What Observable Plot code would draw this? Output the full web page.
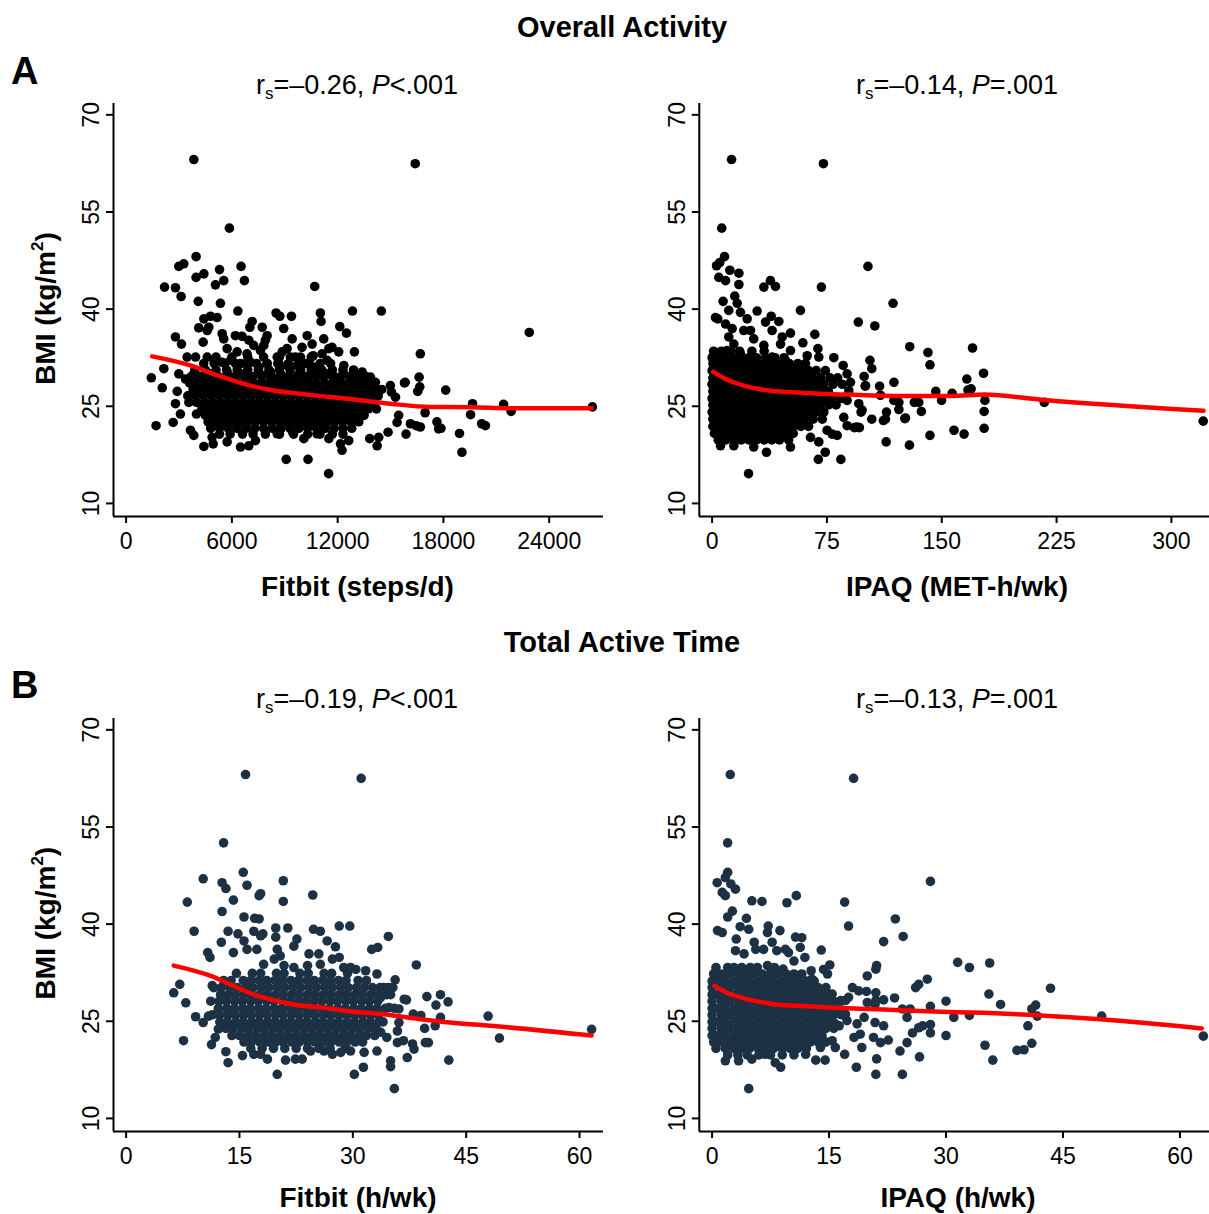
<!DOCTYPE html>
<html><head><meta charset="utf-8">
<script src="https://cdn.jsdelivr.net/npm/d3@7"></script>
<script src="https://cdn.jsdelivr.net/npm/@observablehq/plot@0.6"></script>
<style>
html,body{margin:0;padding:0;background:#fff;}
#root{position:relative;width:1209px;height:1214px;overflow:hidden;font-family:"Liberation Sans",Arial,Helvetica,sans-serif;}
#overlay{position:absolute;left:0;top:0;}
</style></head><body><div id="root"></div>
<script>
// ---------- tick values ----------
const yTicks = [10, 25, 40, 55, 70];
const xTicksSteps = [0, 6000, 12000, 18000, 24000];
const xTicksMet = [0, 75, 150, 225, 300];
const xTicksHours = [0, 15, 30, 45, 60];

// ---------- Panel A left: Fitbit steps/d vs BMI ----------
const tlPoints = [
[3840,63.1],[16400,62.45],[5860,52.5],[22870,36.4],[1430,29.4],[1700,22.0],[26450,24.9],[21410,25.3],[21840,24.2],[19650,25.4],[19540,23.7],[20170,22.3],[20380,22.0],[18910,20.8],[19050,17.9],[18130,27.5],[17630,22.6],[17860,21.6],[16960,24.0],[16690,33.1],[16620,29.5],[16660,28.0],[15830,28.7],[14480,39.7],[11490,14.6],[10320,16.8],[9080,16.8],[10700,43.5],[12840,39.7],
[3970,48.1],[3270,47.0],[2990,46.6],[4410,45.45],[3970,44.9],[5300,46.1],[6520,46.6],[5540,44.4],[6710,44.4],[5070,43.75],[2180,43.4],[2800,43.3],[3120,41.95],[4090,41.2],[5350,40.9],[6340,39.7],[8510,39.4],[8720,38.9],[9380,38.9],[11020,39.4],[11060,38.1],[4410,38.5],[4790,38.9],[5160,38.7],[4120,37.1],[4690,37.2],[4600,36.7],[7150,38.1],[7020,37.2],[7720,37.2],[8940,37.0],[12120,37.3],[12500,36.3],
[2800,35.7],[3140,34.6],[4370,34.9],[5450,36.2],[5540,35.4],[6200,35.9],[6580,35.8],[6960,35.2],[7240,34.4],[7900,35.2],[8000,35.9],[7810,34.4],[7620,33.6],[9420,35.4],[10270,35.9],[10550,34.6],[9980,34.1],[11210,35.4],[11500,33.9],[11680,34.1],[12060,33.4],[12950,33.4],[5730,33.9],[6300,33.4],[6860,33.1],[9130,33.9],[8850,33.4],[8570,32.6],[9320,32.6],[9890,32.6],[10610,32.8],[11120,33.1],[3460,32.6],[3940,32.6],[4600,32.6],[4980,32.1],[5450,31.8],[5920,32.1],[6490,31.6],[7050,31.8],[7530,31.0],[8000,31.6],[8660,31.6],[9130,31.3],[9700,31.3],[10170,31.6],[10650,31.0],[11400,32.1],[12350,31.3],[2990,30.0],[2140,30.8],[3370,29.2],[3840,30.0],[4310,29.5],[4790,30.0],[5260,29.5],[5730,30.3],[6110,29.5],[6680,30.0],[7150,29.5],[7720,29.8],[8190,30.3],[8760,30.0],[9320,29.5],[9800,30.0],[10270,29.2],[10830,29.8],[11400,30.0],[11870,29.5],[12350,30.0],[12910,30.0],[13390,30.3],[13860,29.5],[14140,28.7],[14990,28.2],[15050,27.2],[15790,28.6],[16540,27.3],[2050,27.85],[2900,27.3],[2800,25.4],[3080,23.8],[2670,22.5],[3560,25.6],[3650,21.3],[3840,20.5],[3990,23.8],
[17730,21.5],[16450,22.0],[15880,20.7],[15370,22.5],[14860,21.0],[15460,23.6],[15280,26.4],[16130,22.3],[16690,21.8],[14330,20.2],[14240,18.9],[13820,20.0],[12630,19.7],[12250,18.2],[12160,19.2],[11500,20.0],[10830,20.75],[10080,20.0],[9450,21.0],[8570,20.75],[7340,19.7],[6960,18.9],[6490,18.7],[5730,19.5],[4940,19.2],[4410,18.8],[4880,20.2]
];
const tlCoreRows = [
[32.6,[5100,6000,6900,7800,8700,9600,10500]],
[31.6,[4400,5000,5600,6200,6800,7400,8000,8600,9200,9800,10400,11000,11600]],
[30.6,[3900,4500,5100,5700,6300,6900,7500,8100,8700,9300,9900,10500,11100,11700,12300,12900]],
[29.6,[3700,4200,4700,5200,5700,6200,6700,7200,7700,8200,8700,9200,9700,10200,10700,11200,11700,12200,12700,13200,13600]],
[28.6,[3600,4050,4500,4950,5400,5850,6300,6750,7200,7650,8100,8550,9000,9450,9900,10350,10800,11250,11700,12150,12600,13050,13500,13950]],
[27.6,[3800,4250,4700,5150,5600,6050,6500,6950,7400,7850,8300,8750,9200,9650,10100,10550,11000,11450,11900,12350,12800,13250,13700,14150,14500]],
[26.6,[3500,3950,4400,4850,5300,5750,6200,6650,7100,7550,8000,8450,8900,9350,9800,10250,10700,11150,11600,12050,12500,12950,13400,13850,14300]],
[25.6,[4000,4450,4900,5350,5800,6250,6700,7150,7600,8050,8500,8950,9400,9850,10300,10750,11200,11650,12100,12550,13000,13450,13900]],
[24.6,[4300,4750,5200,5650,6100,6550,7000,7450,7900,8350,8800,9250,9700,10150,10600,11050,11500,11950,12400,12850,13300,13750,14200]],
[23.6,[4500,4950,5400,5850,6300,6750,7200,7650,8100,8550,9000,9450,9900,10350,10800,11250,11700,12150,12600,13050,13500]],
[22.6,[4650,5100,5550,6000,6450,6900,7350,7800,8250,8700,9150,9600,10050,10500,10950,11400,11850,12300,12750,13200]],
[21.6,[4800,5300,5800,6300,6800,7300,7800,8300,8800,9300,9800,10300,10800,11300,11800,12300,12800]],
[20.7,[5300,5900,6600,7200,7900,8700,9500,10300,11000,11700,12300]]
];
const tlLoess = [[1480,32.7],[3650,31.3],[5160,29.8],[6490,28.6],[8190,27.5],[10270,26.8],[12540,26.15],[14990,25.4],[17260,24.9],[19530,24.85],[22130,24.7],[26410,24.7]];

// ---------- Panel A right: IPAQ MET-h/wk vs BMI ----------
const trPoints = [
[12.7,63.1],[72.7,62.45],[6.3,52.5],[101.8,46.6],[320.8,22.7],[217,25.6],[177.3,30.1],[170.1,34.0],[177.7,21.6],[177.7,24.2],[178.2,25.9],[164.6,20.7],[158,21.3],[142.3,20.5],[128.9,19.0],[113.7,19.5],[84.1,16.8],[69.4,16.8],[73.9,17.9],[23.8,14.6],[35.5,17.9],[118.2,40.9],[106.3,37.4],[95.5,38.0],[71.4,43.4],[141,33.3],[142.3,31.4],[129.1,34.2],[166.4,29.2],[167.1,27.5],[156.8,27.0],[146.1,27.3],[149.9,25.9],[136.7,24.2],[132.1,25.6],[125.9,23.1],[118.8,28.7],[109.4,28.1],[104.3,30.8],[103.1,32.1],[99.3,29.6],[100,28.1],[97.3,24.1],[104.3,23.0],[111.9,22.8],[113.9,24.1],[122,24.5],[122,25.6],[96.2,21.7],[92.9,21.7],
[8.1,48.1],[2.9,46.7],[5.0,47.2],[11.6,46.0],[17.5,45.55],[4.4,44.9],[8.8,44.4],[17.5,43.8],[33.8,43.4],[38.1,44.4],[41.4,43.5],[7.2,41.2],[14.8,42.0],[16.4,40.9],[10.9,39.8],[2.2,38.7],[3.7,38.5],[18.5,39.5],[29.4,39.7],[57.7,39.8],[38.6,38.9],[43.6,38.1],[34.9,38.0],[22.9,38.5],[8.8,37.7],[13.1,37.0],[25.1,36.7],[20.7,36.7],[39.2,36.7],[51.2,36.3],[45.8,35.7],[67.1,36.1],[59.3,34.8],[10.9,35.7],[14.2,34.6],[27.2,35.4],[33.8,34.4],[44.7,34.6],[51.2,33.6],[69.1,33.9],[69.7,32.6],[62.1,32.8],[79.5,32.5],[2.2,32.6],[9.8,33.6],[18.5,33.1],[27.2,32.6],[39.2,32.6],[47.9,32.1],[54.5,31.3],[85.6,31.3],
[88.2,30.0],[90.4,28.7],[100.2,28.2],[95.8,25.4],[98.0,24.4],[113.2,23.0],[126.3,23.2],[135,25.6],[169.2,27.7],[69.7,19.5],[78.4,20.7],[81.7,20.5],[88.2,22.0],[94.7,21.8],[86.0,23.3],[88.2,25.9],[89.3,27.4],[75.1,21.3],[64.3,20.2],[51.2,18.7],[51.2,20.9],[27.2,18.7],[14.2,18.9],[5.5,18.9],[110,26.7],[118.7,25.9]
];
const trCoreRows = [
[33.5,[1,6,12,18,26,34]],
[32.5,[0,4,9,14,19,24,29,35,41,47]],
[31.6,[0.5,5.5,10.5,15.5,20.5,25.5,30.5,35.5,40.5,45.5,50.5,56,61]],
[30.5,[0,3,8,13,18,23,28,33,38,43,48,53,58,63,68,74]],
[29.4,[0.5,5.5,10.5,15.5,20.5,25.5,30.5,35.5,40.5,45.5,50.5,55.5,60.5,65.5,71,77,82]],
[28.4,[0,3,8,13,18,23,28,33,38,43,48,53,58,63,68,73,79,85]],
[27.3,[0.5,5.5,10.5,15.5,20.5,25.5,30.5,35.5,40.5,45.5,50.5,55.5,60.5,65.5,70.5,76]],
[26.2,[0,3,8,13,18,23,28,33,38,43,48,53,58,63,68,73,78,84]],
[25.2,[0.5,5.5,10.5,15.5,20.5,25.5,30.5,35.5,40.5,45.5,50.5,55.5,60.5,65.5,70.5,76,81]],
[24.1,[0,3,8,13,18,23,28,33,38,43,48,53,58,63,68,73]],
[23.0,[0.5,5.5,10.5,15.5,20.5,25.5,30.5,35.5,40.5,45.5,50.5,55.5,60.5,66,72]],
[21.9,[0.5,3,8,13,18,23,28,33,38,43,48,53,58,63]],
[20.8,[1.5,6.5,11.5,16.5,21.5,26.5,31.5,36.5,41.5,46.5,53]],
[19.8,[4,9,14,19,24,29,34,39,44,50]]
];
const trLoess = [[0.7,30.3],[9.8,29.1],[20.7,28.2],[38,27.4],[58,27.1],[90,26.8],[123,26.6],[156,26.6],[178,26.8],[215,26.0],[321,24.3]];

// ---------- Panel B left: Fitbit h/wk vs BMI ----------
const blPoints = [
[15.8,63.1],[31.1,62.5],[12.9,52.55],[61.6,23.75],[49.4,22.4],[47.9,25.8],[42.7,19.0],[35.5,14.6],[30.2,16.8],[20.0,16.8],[31.4,17.9],[34.7,38.1],[29.6,39.7],[28.2,39.7],[24.7,44.5],[20.8,46.7],[20.8,43.5],[10.2,47.0],[8.1,43.4],[9.0,38.9],[6.3,29.4],[7.6,22.0],[7.1,30.7],[7.9,27.85],[38.4,33.7],[32.5,36.1],[33.3,36.4],[39.8,28.8],[41.6,29.1],[42.6,28.0],[41.0,27.5],[39.5,23.9],[40.0,21.7],[37.1,28.3],[38.0,26.1],[39.0,25.9],
[12.7,46.4],[13.2,45.5],[15.5,48.0],[16.0,46.0],[17.8,44.7],[17.6,44.4],[14.2,43.7],[12.7,41.95],[15.6,41.1],[17.0,40.9],[17.6,40.8],[13.5,38.9],[14.8,38.5],[16.9,38.9],[18.1,38.5],[19.8,39.4],[21.4,39.4],[24.8,39.2],[25.7,38.9],[12.6,37.2],[15.6,37.4],[16.0,36.1],[17.3,36.1],[19.8,38.0],[17.8,38.2],[22.6,37.7],[22.2,36.6],[26.6,37.4],[27.7,36.5],[10.8,35.6],[11.1,34.85],[14.2,35.6],[20.0,36.1],[20.4,35.1],[24.2,35.4],[25.5,35.4],[27.3,34.6],[28.2,34.85],[18.2,33.8],[19.6,34.6],[20.9,33.6],[22.2,33.3],[24.0,33.6],[25.7,33.8],[28.8,33.3],[29.7,33.3],[30.4,33.0],[11.4,30.5],[9.2,25.7],[10.2,24.8],[11.3,21.4],[11.8,22.5],[12.2,23.8],[13.2,20.3],[13.5,18.6],[15.4,19.7],[35.0,18.9],[35.0,18.0],[33.2,32.3],[31.7,32.8],[35.6,31.4],[35.3,30.2],[34.1,30.2],[33.7,28.7],[36.8,28.4],[36.1,26.9],[34.8,27.1],[41.6,25.6],[40.9,24.3],[39.6,21.7],[37.9,21.5],[37.2,19.4],[38.1,20.7],[35.9,21.7],[36.7,22.0],[35.9,23.5],[36.1,24.8],[33.7,23.3],[34.5,22.5],[33.2,20.4],[31.5,20.2],[29.7,20.4],[28.4,20.2],[27.3,19.9],[26.2,20.4],[24.4,20.4],[23.3,19.15],[22.4,19.15],[21.1,19.0],[18.7,19.15],[17.8,19.9],[16.9,19.9],[10.9,25.8]
];
const blCoreRows = [
[32.4,[14.6,16.7,17.8,19.9,20.9,23,24.1,26.2,27.2,29.3]],
[31.3,[12.9,13.9,15.5,16.5,17.6,18.6,19.7,20.7,21.8,22.8,23.9,24.9,26,27,28.1,29.1,30.7,31.8]],
[30.2,[11.6,12.6,13.7,14.7,15.8,16.8,17.9,18.9,20,21,22.1,23.1,24.2,25.2,26.3,27.3,28.4,29.4,30.5,31.5,32.6,33.6,34.7]],
[29.1,[12.5,13.5,14.5,15.6,16.6,17.7,18.7,19.8,20.8,21.9,22.9,24,25,26.1,27.1,28.2,29.2,30.3,31.3,32.4,33.4,34.5,35]],
[28.1,[11.2,12.3,13.3,14.4,15.4,16.5,17.5,18.6,19.6,20.7,21.7,22.8,23.8,24.9,25.9,27,28,29.1,30.1,31.2,32.2,33.3]],
[27.0,[12.2,13.3,14.3,15.4,16.4,17.5,18.5,19.6,20.6,21.7,22.7,23.8,24.8,25.9,26.9,28,29,30.1,31.1,32.2,33.2,34.3,35.5]],
[26.0,[11.4,12.4,13.5,14.5,15.6,16.6,17.7,18.7,19.8,20.8,21.9,22.9,24,25,26.1,27.1,28.2,29.2,30.3,31.3,32.4,33.4]],
[24.9,[12.4,13.4,14.5,15.5,16.6,17.6,18.7,19.7,20.8,21.8,22.9,23.9,25,26,27.1,28.1,29.2,30.2,31.3,32.3,33.4,34]],
[23.9,[13.2,14.2,15.3,16.3,17.4,18.4,19.5,20.5,21.6,22.6,23.7,24.7,25.8,26.8,27.9,28.9,30,31,32.1,33.1]],
[22.8,[14,15,16.1,17.1,18.2,19.2,20.3,21.3,22.4,23.4,24.5,25.5,26.6,27.6,28.7,29.7,30.8,31.8,32.9]],
[21.8,[15.6,16.6,17.7,18.7,19.8,20.8,21.9,22.9,24,25,26.1,27.1,28.2,29.2,30.3,31.3]],
[20.8,[16.5,18,19.5,21,22.5,24,25.5,27,29]]
];
const blLoess = [[6.3,33.6],[11.2,32.0],[13.8,30.7],[16.5,29.3],[19.1,28.4],[22.6,27.5],[26.2,27.1],[29.7,26.5],[34.1,26.1],[38.5,25.4],[42.9,24.8],[48.2,24.3],[61.6,22.8]];

// ---------- Panel B right: IPAQ h/wk vs BMI ----------
const brPoints = [
[2.33,63.1],[18.15,62.5],[1.99,52.55],[28.0,46.6],[63.0,22.7],[49.96,25.8],[43.4,30.1],[35.6,34.0],[35.5,29.2],[37.0,27.6],[31.5,34.1],[33.0,33.3],[30.0,28.1],[30.0,22.8],[31.0,25.6],[33.0,25.9],[35.0,21.3],[36.0,19.0],[39.1,20.5],[40.0,20.6],[41.0,21.6],[40.5,24.3],[41.0,26.9],[41.5,27.5],[41.7,25.8],[24.4,16.8],[21.0,16.8],[18.5,17.9],[4.7,14.6],[17.0,43.4],[17.5,39.7],[23.5,40.8],[24.5,38.1],[22.0,37.3],[10.8,44.4],[9.6,43.3],
[2.0,48.0],[1.7,47.2],[0.65,46.4],[2.4,46.2],[3.0,45.4],[1.3,44.9],[1.7,44.4],[5.1,43.6],[6.4,43.5],[2.6,42.0],[2.0,41.1],[4.4,40.9],[0.7,39.0],[1.3,38.7],[3.6,39.6],[4.7,39.2],[7.2,39.7],[7.1,38.7],[8.7,39.0],[10.7,38.0],[11.5,37.9],[3.1,37.7],[3.0,35.9],[4.1,35.4],[5.4,37.2],[5.6,36.1],[6.6,36.1],[7.7,37.2],[8.3,35.9],[9.4,36.1],[9.8,35.6],[11.3,36.4],[11.9,34.85],[14.0,36.0],[15.1,33.7],[14.3,33.0],[14.8,32.3],[12.7,32.8],[12.8,31.5],[19.9,32.0],[21.1,33.6],[21.0,33.05],[10.5,34.3],[9.1,33.05],[7.1,33.6],[4.9,33.3],[2.8,33.3],[0.4,32.5],[27.6,31.5],[26.5,30.7],[26.1,30.2],[23.4,28.6],[22.0,28.3],[21.0,29.4],[19.8,29.6],[18.0,30.2],[18.8,29.7],[17.1,28.2],[19.9,27.9],[21.0,28.2],[28.0,27.3],[24.4,26.9],[25.4,26.9],[25.0,25.6],[27.0,24.3],[28.0,24.5],[28.0,23.2],[25.7,23.2],[26.5,24.0],[25.0,21.7],[24.1,20.4],[26.6,19.5],[22.6,22.1],[21.6,21.7],[20.7,22.5],[22.0,24.3],[20.9,24.8],[20.9,27.6],[19.5,25.6],[18.6,24.6],[17.3,25.1],[16.3,24.3],[19.0,23.0],[19.2,20.95],[21.1,19.2],[17.0,19.9],[18.2,22.5],[15.4,22.0],[14.5,19.0],[13.3,19.0],[12.0,19.9],[8.8,17.9],[8.1,18.6],[6.8,19.9],[5.1,19.15],[3.4,18.9],[1.7,18.9],[15.8,20.95],[13.9,20.95],[14.9,25.6],[15.8,24.6],[15.4,29.2],[16.5,28.2],[17.5,28.7],[16.0,26.9],[17.1,26.1]
];
const brCoreRows = [
[33.3,[0.5,2,3.8,5.8,8]],
[32.3,[0.2,1.2,2.2,3.3,4.3,5.3,6.4,7.4,8.4,9.5,10.5,11.5]],
[31.2,[0,0.7,1.7,2.8,3.8,4.8,5.9,6.9,7.9,9,10,11,12.1,13.1]],
[30.2,[0,1.2,2.2,3.3,4.3,5.3,6.4,7.4,8.4,9.5,10.5,11.5,12.6,13.6,14.6]],
[29.1,[0,0.7,1.7,2.8,3.8,4.8,5.9,6.9,7.9,9,10,11,12.1,13.1,14.1,15.1]],
[28.1,[0,1.2,2.2,3.3,4.3,5.3,6.4,7.4,8.4,9.5,10.5,11.5,12.6,13.6,14.6,15.6,16.6]],
[27.0,[0,0.7,1.7,2.8,3.8,4.8,5.9,6.9,7.9,9,10,11,12.1,13.1,14.1,15.1]],
[26.0,[0,1.2,2.2,3.3,4.3,5.3,6.4,7.4,8.4,9.5,10.5,11.5,12.6,13.6,14.6,15.6,16.6]],
[24.9,[0,0.7,1.7,2.8,3.8,4.8,5.9,6.9,7.9,9,10,11,12.1,13.1,14.1,15.1]],
[23.9,[0,1.2,2.2,3.3,4.3,5.3,6.4,7.4,8.4,9.5,10.5,11.5,12.6,13.6,14.6,15.6]],
[22.8,[0,0.7,1.7,2.8,3.8,4.8,5.9,6.9,7.9,9,10,11,12.1,13.1,14.1]],
[21.8,[0.2,1.2,2.2,3.3,4.3,5.3,6.4,7.4,8.4,9.5,10.5,11.5,12.6,13.6,14.6]],
[20.8,[0.5,1.7,2.8,3.8,4.8,5.9,6.9,7.9,9,10,11,12.1]],
[19.8,[2,3.3,4.5,6,7.5,9,10.5]]
];
const brLoess = [[0.3,30.5],[1.9,29.4],[3.6,28.7],[6.2,28.0],[8.8,27.5],[10.9,27.4],[15.6,27.1],[22,26.8],[28.4,26.5],[34.8,26.3],[42.1,25.9],[49.8,25.3],[62.8,23.9]];

// ---------- drawing ----------
const FONT = '"Liberation Sans", Arial, Helvetica, sans-serif';
const root = document.getElementById("root");
const rowsToPoints = rows => rows.flatMap(([y, xs]) => xs.map(x => [x, y]));

function panel({points, core, loess, xDomain, xTicks, fill, left, top, width, mLeft, mRight}) {
  const yDomain = [7.98, 71.75];
  const data = rowsToPoints(core).concat(points);
  const svg = Plot.plot({
    width, height: 470,
    marginLeft: mLeft, marginRight: mRight, marginTop: 13, marginBottom: 44,
    style: {fontFamily: FONT, fontSize: "23px", color: "#000", background: "transparent", overflow: "visible"},
    x: {domain: xDomain},
    y: {domain: yDomain},
    marks: [
      Plot.ruleX([xDomain[0]], {stroke: "#000", strokeWidth: 2}),
      Plot.ruleY([yDomain[0]], {stroke: "#000", strokeWidth: 2}),
      Plot.axisX({ticks: xTicks, tickSize: 7, tickPadding: 9, tickFormat: d => String(d), strokeWidth: 2, label: null, fill: "#000"}),
      Plot.axisY({ticks: yTicks, tickSize: 7, tickPadding: 15, tickRotate: -90, textAnchor: "middle", lineAnchor: "middle", tickFormat: d => String(d), strokeWidth: 2, label: null, fill: "#000"}),
      Plot.dot(data, {x: d => d[0], y: d => d[1], r: 4.8, fill, stroke: "none"}),
      Plot.line(loess, {x: d => d[0], y: d => d[1], stroke: "#ff0000", strokeWidth: 4.5, curve: "monotone-x"})
    ]
  });
  svg.style.position = "absolute";
  svg.style.left = left + "px";
  svg.style.top = top + "px";
  root.appendChild(svg);
}

const dark = "#000000", navy = "#1c3144";
panel({points: tlPoints, core: tlCoreRows, loess: tlLoess, xDomain: [-715, 27080], xTicks: xTicksSteps, fill: dark, left: 0, top: 90, width: 610, mLeft: 113, mRight: 7});
panel({points: trPoints, core: trCoreRows, loess: trLoess, xDomain: [-8.36, 324.9], xTicks: xTicksMet, fill: dark, left: 600, top: 90, width: 609, mLeft: 98.8, mRight: 0});
panel({points: blPoints, core: blCoreRows, loess: blLoess, xDomain: [-1.667, 63.17], xTicks: xTicksHours, fill: navy, left: 0, top: 704.6, width: 610, mLeft: 113, mRight: 7});
panel({points: brPoints, core: brCoreRows, loess: brLoess, xDomain: [-1.64, 63.79], xTicks: xTicksHours, fill: navy, left: 600, top: 704.6, width: 609, mLeft: 98.8, mRight: 0});

// ---------- texts ----------
const off = 614.6;
function sub(x, y, r, sign) {
  return `<text x="${x}" y="${y}" text-anchor="middle" font-size="27">r<tspan font-size="17" dy="5">s</tspan><tspan dy="-5">=–${r}, </tspan><tspan font-style="italic">P</tspan><tspan>${sign}.001</tspan></text>`;
}
function ylab(cy) {
  return `<text transform="translate(55,${cy}) rotate(-90)" text-anchor="middle" font-size="28" font-weight="bold">BMI (kg/m<tspan font-size="17" dy="-12">2</tspan><tspan dy="12">)</tspan></text>`;
}
const overlay = `<svg id="overlay" width="1209" height="1214" font-family='${FONT}' fill="#000">
<text x="622" y="37.4" text-anchor="middle" font-size="29" font-weight="bold">Overall Activity</text>
<text x="11" y="83.6" font-size="38" font-weight="bold">A</text>
${sub(357, 93.7, "0.26", "&lt;")}
${sub(957, 93.7, "0.14", "=")}
<text x="357.5" y="596" text-anchor="middle" font-size="28" font-weight="bold">Fitbit (steps/d)</text>
<text x="957" y="596" text-anchor="middle" font-size="28" font-weight="bold">IPAQ (MET-h/wk)</text>
${ylab(308.5)}
<text x="622" y="${37.4 + off}" text-anchor="middle" font-size="29" font-weight="bold">Total Active Time</text>
<text x="11" y="${83.6 + off}" font-size="38" font-weight="bold">B</text>
${sub(357, 93.7 + off, "0.19", "&lt;")}
${sub(957, 93.7 + off, "0.13", "=")}
<text x="358" y="1206.5" text-anchor="middle" font-size="28" font-weight="bold">Fitbit (h/wk)</text>
<text x="958" y="1206.5" text-anchor="middle" font-size="28" font-weight="bold">IPAQ (h/wk)</text>
${ylab(308.5 + off)}
</svg>`;
root.insertAdjacentHTML("beforeend", overlay);
</script></body></html>
